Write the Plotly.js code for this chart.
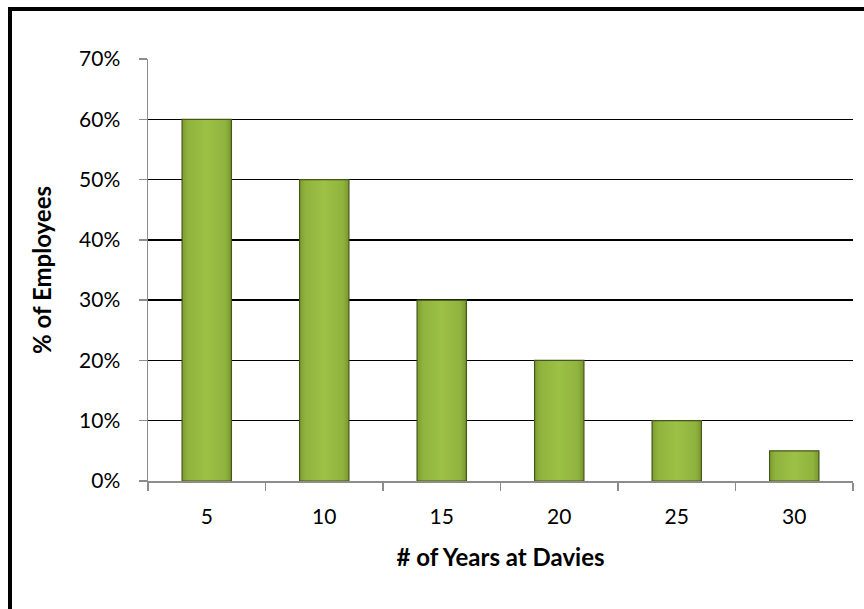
<!DOCTYPE html>
<html>
<head>
<meta charset="utf-8">
<script src="https://cdn.plot.ly/plotly-3.0.1.min.js"></script>
<style>
  html, body { margin: 0; padding: 0; background: #fff; overflow: hidden; }
  #chart { position: absolute; left: 0; top: 0; width: 864px; height: 609px; }
  #frame { position: absolute; left: 8px; top: 7px; width: 900px; height: 700px;
           border-left: 4px solid #000; border-top: 4px solid #000; pointer-events: none; }
</style>
</head>
<body>
<div id="chart"></div>
<div id="frame"></div>
<script>
const years = ['5', '10', '15', '20', '25', '30'];
const pctEmployees = [0.60, 0.50, 0.30, 0.20, 0.10, 0.05];
const yTitle = '% of Employees';
const xTitle = '# of Years at Davies';

const trace = {
  type: 'bar',
  x: years,
  y: pctEmployees,
  marker: { color: '#93b740', line: { color: '#44561a', width: 1.2 } },
  width: 0.42,
  hoverinfo: 'skip'
};

const font = 'Lato, "Open Sans", "DejaVu Sans", sans-serif';

const layout = {
  width: 864, height: 609,
  margin: { l: 148, r: 11, t: 59, b: 128 },
  paper_bgcolor: '#ffffff', plot_bgcolor: '#ffffff',
  showlegend: false,
  font: { family: font, size: 21, color: '#000' },
  xaxis: {
    type: 'category',
    showgrid: false,
    showline: true, linecolor: '#8c8c8c', linewidth: 1.5,
    ticks: 'outside', tickson: 'boundaries', ticklen: 8, tickcolor: '#8c8c8c', tickwidth: 1.5,
    tickfont: { family: font, size: 21, color: '#000' },
    ticklabelstandoff: 16,
    title: { text: '<b>' + xTitle + '</b>', font: { family: font, size: 24, color: '#000' }, standoff: 22 }
  },
  yaxis: {
    range: [0, 0.7], dtick: 0.1, tickformat: '.0%',
    showgrid: true, gridcolor: '#000', gridwidth: 1.5,
    zeroline: false,
    showline: true, linecolor: '#8c8c8c', linewidth: 1.5,
    ticks: 'outside', ticklen: 8, tickcolor: '#8c8c8c', tickwidth: 1.5,
    tickfont: { family: font, size: 21, color: '#000' },
    ticklabelstandoff: 14,
    title: { text: '<b>' + yTitle + '</b>', font: { family: font, size: 24, color: '#000' }, standoff: 20 }
  }
};

Plotly.newPlot('chart', [trace], layout, { displayModeBar: false, staticPlot: true }).then(function (gd) {
  // shade the library-drawn bars with a soft horizontal gradient
  const svgNS = 'http://www.w3.org/2000/svg';
  const svg = gd.querySelector('svg.main-svg');
  let defs = svg.querySelector('defs');
  if (!defs) { defs = document.createElementNS(svgNS, 'defs'); svg.insertBefore(defs, svg.firstChild); }
  const g = document.createElementNS(svgNS, 'linearGradient');
  g.setAttribute('id', 'barShade');
  g.setAttribute('x1', '0'); g.setAttribute('y1', '0'); g.setAttribute('x2', '1'); g.setAttribute('y2', '0');
  [['0', '#7d9c30'], ['0.12', '#8fb33d'], ['0.5', '#9cc146'], ['0.88', '#8fb33d'], ['1', '#789630']].forEach(function (s) {
    const st = document.createElementNS(svgNS, 'stop');
    st.setAttribute('offset', s[0]); st.setAttribute('stop-color', s[1]);
    g.appendChild(st);
  });
  defs.appendChild(g);
  gd.querySelectorAll('.bars .point path').forEach(function (p) {
    p.style.fill = 'url(#barShade)';
  });
});
</script>
</body>
</html>
